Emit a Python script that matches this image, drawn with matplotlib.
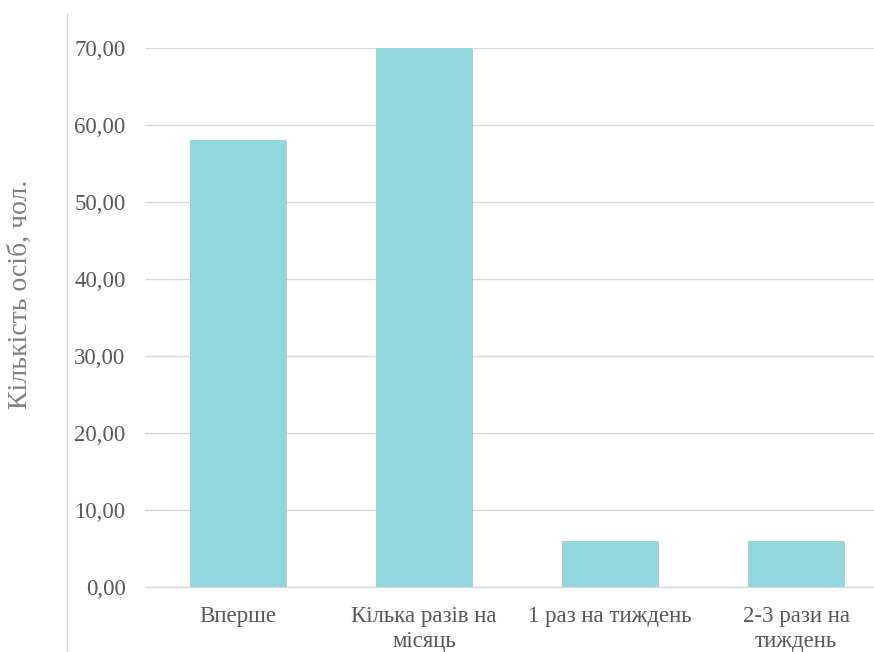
import numpy as np
import matplotlib.pyplot as plt
from matplotlib.lines import Line2D
import matplotlib.patheffects as pe

# ----------------------------------------------------------------------
#  Data
# ----------------------------------------------------------------------
categories = ['Вперше', 'Кілька разів на\nмісяць', '1 раз на тиждень', '2-3 рази на\nтиждень']
persons = [58, 70, 6, 6]
y_ticks = [0, 10, 20, 30, 40, 50, 60, 70]
y_label = 'Кількість осіб, чол.'

plt.rcParams['font.family'] = ['Liberation Serif', 'DejaVu Serif']

fig = plt.figure(figsize=(8.74, 6.52), dpi=100)
ax = fig.add_axes([0.1659, 0.0997, 0.8513, 0.8267])

x = np.arange(len(categories))
bars = ax.bar(x, persons, width=0.516, color='#92D6DE', zorder=3)
for b in bars:
	b.set_path_effects([pe.SimplePatchShadow(offset=(0.8, -0.8), shadow_rgbFace='#a0a0a0', alpha=0.6), pe.Normal()])

ax.set_xlim(-0.5, len(categories) - 0.5)
ax.set_ylim(0, 70)
ax.set_yticks(y_ticks)
ax.set_yticklabels(['%d,00' % v for v in y_ticks])
ax.set_xticks(x)
ax.set_xticklabels(categories, linespacing=1.25)

ax.tick_params(axis='both', length=0, labelsize=16.5, labelcolor='#595959')
ax.tick_params(axis='y', pad=14)
ax.tick_params(axis='x', pad=14)

ax.grid(axis='y', color='#d9d9d9', linewidth=1, zorder=0)
for s in ['top', 'right', 'left']:
	ax.spines[s].set_visible(False)
ax.spines['bottom'].set_color('#d9d9d9')
ax.spines['bottom'].set_linewidth(1)

fig.text(0.023, 0.548, y_label, rotation=90, ha='center', va='center', fontsize=20, color='#808080')

# thin frame line on the left side of the chart area
fig.add_artist(Line2D([67 / 874, 67 / 874], [0, 1 - 14 / 652], color='#d9d9d9', linewidth=1))

plt.savefig('out.png', dpi=100)
